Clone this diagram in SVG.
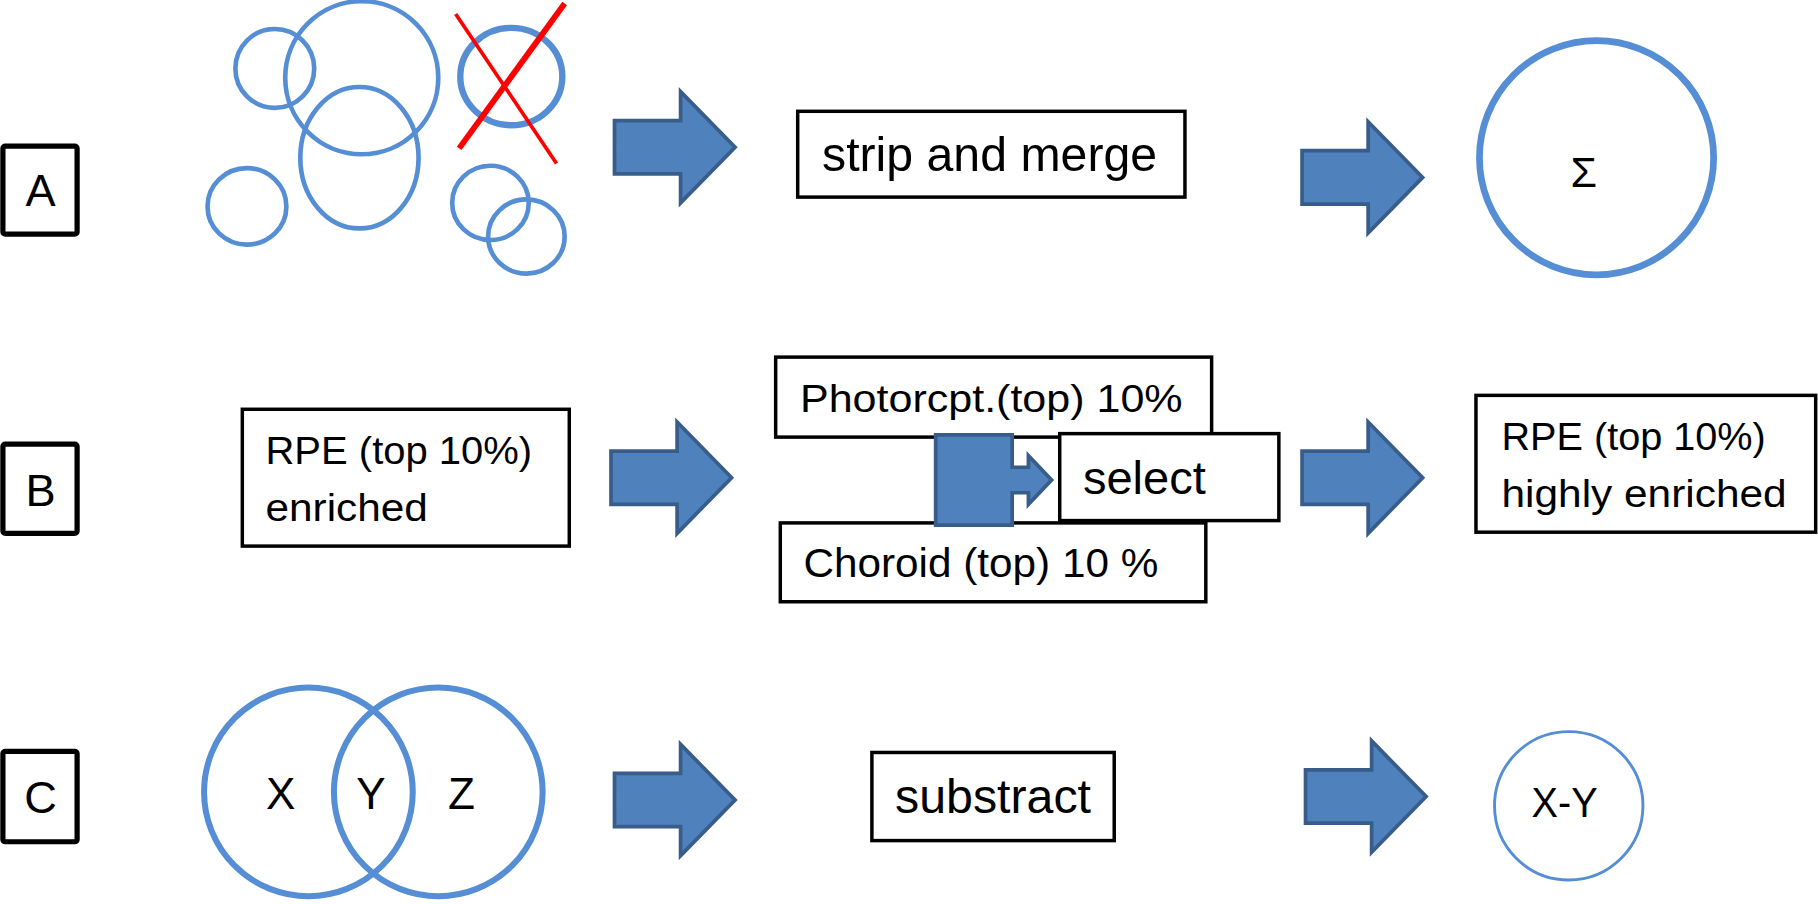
<svg xmlns="http://www.w3.org/2000/svg" width="1818" height="904" viewBox="0 0 1818 904">
<defs>
<style>
.lbl{fill:#fff;stroke:#000;stroke-width:4.5}
.box{fill:#fff;stroke:#000;stroke-width:3}
.ring{fill:none;stroke:#558ED5}
.t{font-family:"Liberation Sans",Arial,sans-serif;fill:#000}
.arr{fill:#4F81BD;stroke:#385D8A;stroke-width:3.2}
.rx{stroke:#FF0000;fill:none}
</style>
<path id="ba" d="M0,-23 H57 V-48 L104,0 L57,48 V23 H0 Z"/>
</defs>
<rect width="1818" height="904" fill="#fff"/>
<g transform="scale(1.15944)">
  <!-- Row A -->
  <g id="labelA">
    <rect class="lbl" x="2.5" y="126" width="64" height="76" rx="2"/>
    <text class="t" x="35" y="178" font-size="39" text-anchor="middle">A</text>
  </g>
  <g id="sets">
    <ellipse class="ring" stroke-width="4" cx="237" cy="59" rx="34" ry="34"/>
    <ellipse class="ring" stroke-width="4" cx="312" cy="67" rx="66" ry="66"/>
    <ellipse class="ring" stroke-width="4" cx="310" cy="136" rx="51" ry="61"/>
    <ellipse class="ring" stroke-width="4" cx="213" cy="178" rx="34" ry="33"/>
    <ellipse class="ring" stroke-width="5.5" cx="441" cy="66" rx="44" ry="42"/>
    <ellipse class="ring" stroke-width="4" cx="423" cy="175" rx="33" ry="32"/>
    <ellipse class="ring" stroke-width="4" cx="454" cy="204" rx="33" ry="32"/>
    <line class="rx" stroke-width="3.2" x1="393" y1="12" x2="480" y2="141"/>
    <line class="rx" stroke-width="5" x1="396" y1="128" x2="487" y2="3"/>
  </g>
  <g id="strip">
    <rect class="box" x="688" y="96" width="334" height="74"/>
    <text class="t" x="709" y="147.5" font-size="42" textLength="289" lengthAdjust="spacingAndGlyphs">strip and merge</text>
  </g>
  <g id="sum">
    <circle class="ring" stroke-width="5.8" cx="1377" cy="136" r="101"/>
    <text class="t" x="1366" y="161" font-size="37" text-anchor="middle">Σ</text>
  </g>
  <!-- Row B -->
  <g id="labelB">
    <rect class="lbl" x="2.5" y="383" width="64" height="77" rx="2"/>
    <text class="t" x="35" y="436" font-size="39" text-anchor="middle">B</text>
  </g>
  <g id="rpe">
    <rect class="box" x="209" y="353" width="282" height="118"/>
    <text class="t" x="229" y="400" font-size="34" textLength="230" lengthAdjust="spacingAndGlyphs">RPE (top 10%)</text>
    <text class="t" x="229" y="449" font-size="34" textLength="140" lengthAdjust="spacingAndGlyphs">enriched</text>
  </g>
  <g id="photo">
    <rect class="box" x="669" y="308" width="376" height="69"/>
    <text class="t" x="690" y="355" font-size="34" textLength="330" lengthAdjust="spacingAndGlyphs">Photorcpt.(top) 10%</text>
  </g>
  <g id="choroid">
    <rect class="box" x="673" y="451" width="367" height="68"/>
    <text class="t" x="693" y="498" font-size="35" textLength="306" lengthAdjust="spacingAndGlyphs">Choroid (top) 10 %</text>
  </g>
  <g id="select">
    <rect class="box" x="914" y="374" width="189" height="75"/>
    <text class="t" x="934" y="426" font-size="40" textLength="106" lengthAdjust="spacingAndGlyphs">select</text>
  </g>
  <g id="rpe2">
    <rect class="box" x="1273" y="341" width="293" height="118"/>
    <text class="t" x="1295" y="388" font-size="34" textLength="228" lengthAdjust="spacingAndGlyphs">RPE (top 10%)</text>
    <text class="t" x="1295" y="437" font-size="34" textLength="246" lengthAdjust="spacingAndGlyphs">highly enriched</text>
  </g>
  <!-- Row C -->
  <g id="labelC">
    <rect class="lbl" x="2.5" y="648" width="64" height="78" rx="2"/>
    <text class="t" x="35" y="701" font-size="39" text-anchor="middle">C</text>
  </g>
  <g id="venn">
    <circle class="ring" stroke-width="5.2" cx="266" cy="683" r="90"/>
    <circle class="ring" stroke-width="5.2" cx="378" cy="683" r="90"/>
    <text class="t" x="242" y="698" font-size="38" text-anchor="middle">X</text>
    <text class="t" x="320" y="698" font-size="38" text-anchor="middle">Y</text>
    <text class="t" x="398" y="698" font-size="38" text-anchor="middle">Z</text>
  </g>
  <g id="substract">
    <rect class="box" x="752" y="649" width="209" height="76"/>
    <text class="t" x="772" y="701" font-size="41" textLength="169" lengthAdjust="spacingAndGlyphs">substract</text>
  </g>
  <g id="diff">
    <circle class="ring" stroke-width="2.5" cx="1353" cy="695" r="64"/>
    <text class="t" x="1321" y="705" font-size="36" textLength="57" lengthAdjust="spacingAndGlyphs">X-Y</text>
  </g>
  <!-- connectors -->
  <g id="connectors">
    <use class="arr" href="#ba" transform="translate(530,127)"/>
    <use class="arr" href="#ba" transform="translate(1123,153)"/>
    <use class="arr" href="#ba" transform="translate(527,412)"/>
    <use class="arr" href="#ba" transform="translate(1123,412)"/>
    <use class="arr" href="#ba" transform="translate(530,690)"/>
    <use class="arr" href="#ba" transform="translate(1126,687)"/>
    <path class="arr" d="M807,375 H873 V403 H887 V393 L907,414 L887,435 V425 H873 V453 H807 Z"/>
  </g>
</g>
</svg>
